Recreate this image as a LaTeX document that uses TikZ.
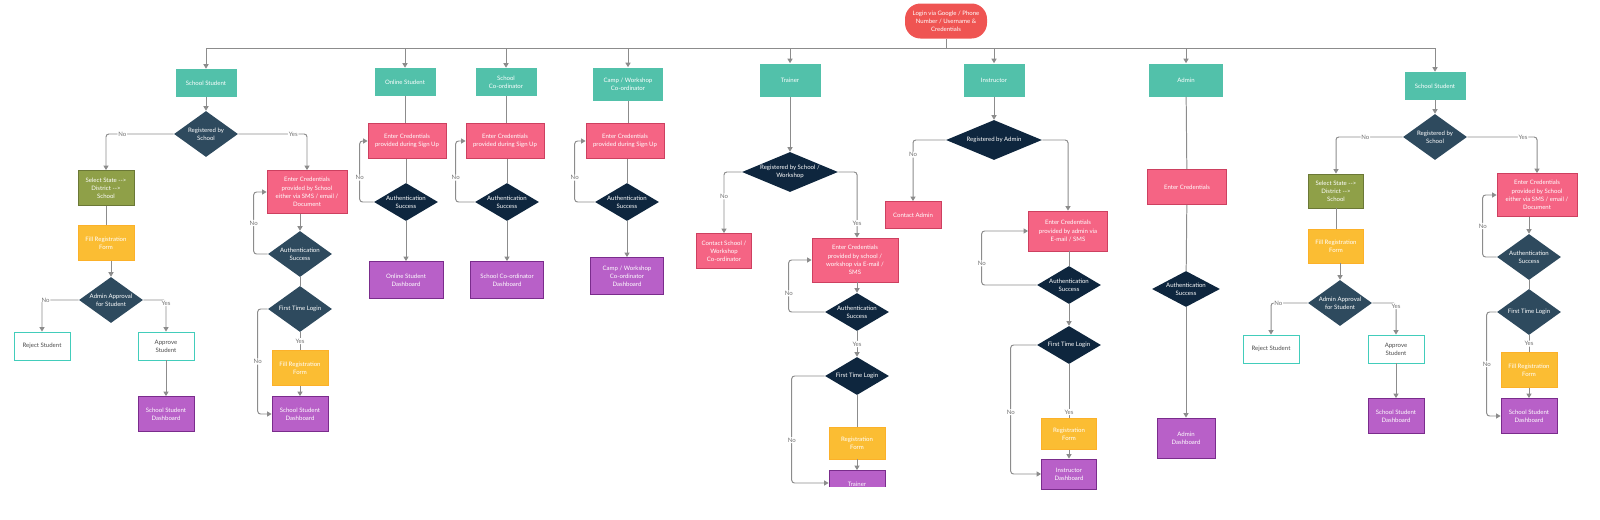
\documentclass[tikz,border=0pt]{standalone}
\usepackage{fontspec}
\setmainfont{Lato}
\usetikzlibrary{arrows.meta}
\usetikzlibrary{shapes.geometric}
\definecolor{rolle}{RGB}{82,193,170}
\definecolor{startrot}{RGB}{239,84,82}
\definecolor{rosa}{RGB}{245,100,132}
\definecolor{rosarand}{RGB}{205,64,96}
\definecolor{schiefer}{RGB}{46,74,94}
\definecolor{marine}{RGB}{14,38,62}
\definecolor{oliv}{RGB}{143,160,72}
\definecolor{gelb}{RGB}{251,189,51}
\definecolor{lila}{RGB}{184,96,200}
\definecolor{lilarand}{RGB}{122,44,140}
\definecolor{linie}{RGB}{140,140,140}
\newlength{\pix}
\setlength{\pix}{0.025cm}

\tikzset{
    box/.style={rectangle, align=center, text=white, inner sep=1pt},
    start/.style={box, fill=startrot, rounded corners=11pt, minimum width=82*\pix, minimum height=35*\pix},
    rolle/.style={box, fill=rolle, minimum width=61*\pix, minimum height=28*\pix},
    cred/.style={box, fill=rosa, draw=rosarand, line width=0.6pt, minimum width=78*\pix, minimum height=35*\pix},
    wahl/.style={box, fill=oliv, draw=oliv!75!black, line width=0.6pt, minimum width=56*\pix, minimum height=35*\pix},
    formular/.style={box, fill=gelb, draw=gelb!80!orange, line width=0.6pt, minimum width=56*\pix, minimum height=35*\pix},
    brett/.style={box, fill=lila, draw=lilarand, line width=0.6pt, minimum width=56*\pix, minimum height=35*\pix},
    ergebnis/.style={box, fill=white, draw=rolle!80!cyan, text=black!70, line width=0.6pt, minimum width=56*\pix, minimum height=28*\pix},
    frage/.style={diamond, aspect=1.4, fill=schiefer, text=white, align=center, inner sep=0pt, minimum width=64*\pix, minimum height=46*\pix},
    pruef/.style={diamond, aspect=1.7, fill=marine, text=white, align=center, inner sep=0pt, minimum width=64*\pix, minimum height=38*\pix},
    breit/.style={aspect=2.4, minimum width=96*\pix, minimum height=40*\pix},
    link/.style={draw=linie, line width=0.7pt, rounded corners=2pt},
    flow/.style={link, -{Triangle[length=3.2pt,width=3.6pt]}},
    lbl/.style={fill=white, text=black!55, inner sep=0.6pt}
}

\begin{document}
\begin{tikzpicture}[x=0.025cm, y=-0.025cm, font=\fontsize{4.3}{5.8}\selectfont]

    \useasboundingbox (0,0) rectangle (1600,520);

    % Start und Rollen
    \node[start] (login) at (946,21) {Login via Google / Phone\\Number / Username \&\\Credentials};
    \coordinate (bus) at (946,48);

    \node[rolle] (ss1) at (206,83) {School Student};
    \node[rolle] (os) at (405,82) {Online Student};
    \node[rolle] (sc) at (506,82) {School\\Co-ordinator};
    \node[rolle, minimum width=70*\pix, minimum height=33*\pix] (cw) at (628,84) {Camp / Workshop\\Co-ordinator};
    \node[rolle, minimum height=33*\pix] (tr) at (790,80) {Trainer};
    \node[rolle, minimum height=33*\pix] (in) at (994,80) {Instructor};
    \node[rolle, minimum width=74*\pix, minimum height=33*\pix] (ad) at (1186,80) {Admin};
    \node[rolle] (ss2) at (1435,86) {School Student};

    \draw[link] (login) -- (bus);
    \draw[link] (ss1.north |- bus) -- (ss2.north |- bus);
    \foreach \r in {ss1,os,sc,cw,tr,in,ad,ss2} {
        \draw[flow] (\r.north |- bus) -- (\r.north);
    }

    % School Student (links)
    \node[frage] (rs1) at (206,134) {Registered by\\School};
    \node[wahl] (sel1) at (106,188) {Select State {-}{-}>\\District {-}{-}>\\School};
    \node[formular] (fr1) at (106,243) {Fill Registration\\Form};
    \node[frage] (aa1) at (111,300) {Admin Approval\\for Student};
    \node[ergebnis] (rj1) at (42,346) {Reject Student};
    \node[ergebnis] (ap1) at (166,346) {Approve\\Student};
    \node[brett] (sd1) at (166,414) {School Student\\Dashboard};
    \node[cred, minimum width=80*\pix, minimum height=43*\pix] (ec1) at (307,192) {Enter Credentials\\provided by School\\either via SMS / email /\\Document};
    \node[frage] (au1) at (300,254) {Authentication\\Success};
    \node[frage] (ft1) at (300,309) {First Time Login};
    \node[formular] (fr2) at (300,368) {Fill Registration\\Form};
    \node[brett] (sd2) at (300,414) {School Student\\Dashboard};

    \draw[flow] (ss1) -- (rs1);
    \draw[flow] (rs1.west) -| node[pos=0.38,lbl]{No} (sel1.north);
    \draw[flow] (rs1.east) -| node[pos=0.4,lbl]{Yes} (ec1.north);
    \draw[link] (sel1) -- (fr1);
    \draw[flow] (fr1.south -| aa1.north) -- (aa1.north);
    \draw[flow] (aa1.west) -| node[pos=0.45,lbl]{No} (rj1.north);
    \draw[flow] (aa1.east) -| node[pos=0.55,lbl]{Yes} (ap1.north);
    \draw[flow] (ap1) -- (sd1);
    \draw[flow] (ec1.south -| au1.north) -- (au1.north);
    \draw[flow] (au1.west) -- ++(-14,0) |- node[pos=0.25,lbl]{No} (ec1.west);
    \draw[link] (au1) -- (ft1);
    \draw[link] (ft1) -- node[lbl]{Yes} (fr2);
    \draw[flow] (fr2) -- (sd2);
    \draw[flow] (ft1.west) -- ++(-10,0) |- node[pos=0.25,lbl]{No} (sd2.west);

    % Online Student, School Co-ordinator, Camp / Workshop
    \node[cred] (ec2) at (407,141) {Enter Credentials\\provided during Sign Up};
    \node[pruef] (au2) at (406,202) {Authentication\\Success};
    \node[brett, minimum width=74*\pix, minimum height=37*\pix] (db2) at (406,280) {Online Student\\Dashboard};

    \node[cred] (ec3) at (505,141) {Enter Credentials\\provided during Sign Up};
    \node[pruef] (au3) at (507,202) {Authentication\\Success};
    \node[brett, minimum width=73*\pix, minimum height=37*\pix] (db3) at (507,280) {School Co-ordinator\\Dashboard};

    \node[cred] (ec4) at (625,141) {Enter Credentials\\provided during Sign Up};
    \node[pruef] (au4) at (627,202) {Authentication\\Success};
    \node[brett, minimum width=73*\pix, minimum height=37*\pix] (db4) at (627,276) {Camp / Workshop\\Co-ordinator\\Dashboard};

    \draw[link] (os.south) -- (os.south |- ec2.north);
    \draw[link] (sc.south) -- (sc.south |- ec3.north);
    \draw[link] (cw.south) -- (cw.south |- ec4.north);
    \foreach \e/\a/\d/\w in {ec2/au2/db2/14, ec3/au3/db3/19, ec4/au4/db4/20} {
        \draw[link] (\e.south -| \a.north) -- (\a.north);
        \draw[flow] (\a.west) -- ++(-\w,0) |- node[pos=0.2,lbl]{No} (\e.west);
        \draw[flow] (\a) -- (\d);
    }

    % Trainer
    \node[pruef, breit] (rt) at (790,172) {Registered by School /\\Workshop};
    \node[cred, minimum width=55*\pix] (ct) at (724,251) {Contact School /\\Workshop\\Co-ordinator};
    \node[cred, minimum width=86*\pix, minimum height=44*\pix] (et) at (855,260) {Enter Credentials\\provided by school /\\workshop via E-mail /\\SMS};
    \node[pruef] (aut) at (857,312) {Authentication\\Success};
    \node[pruef] (ftt) at (857,376) {First Time Login};
    \node[formular, minimum height=32*\pix] (frt) at (857,443) {Registration\\Form};
    \begin{scope}
        \clip (0,0) rectangle (1600,486);
        \node[brett] (dbt) at (857,488) {Trainer\\Dashboard};
        \draw[flow] (ftt.west) -- ++(-33,0) |- node[pos=0.3,lbl]{No} ([yshift=5*\pix]dbt.west);
    \end{scope}

    \draw[flow] (tr) -- (rt);
    \draw[flow] (rt.west) -| node[pos=0.7,lbl]{No} (ct.north);
    \draw[flow] (rt.east) -| node[pos=0.89,lbl]{Yes} (aut.north |- et.north);
    \draw[flow] (et.south -| aut.north) -- (aut.north);
    \draw[flow] (aut.west) -- ++(-36,0) |- node[pos=0.18,lbl]{No} (et.west);
    \draw[flow] (aut) -- node[lbl]{Yes} (ftt);
    \draw[link] (ftt) -- (frt);
    \draw[flow] (frt) -- (dbt);

    % Instructor
    \node[pruef, breit] (ri) at (994,140) {Registered by Admin};
    \node[cred, minimum width=56*\pix, minimum height=27*\pix] (ca) at (913,215) {Contact Admin};
    \node[cred, minimum width=79*\pix, minimum height=40*\pix] (ei) at (1068,231) {Enter Credentials\\provided by admin via\\E-mail / SMS};
    \node[pruef] (aui) at (1069,285) {Authentication\\Success};
    \node[pruef] (fti) at (1069,345) {First Time Login};
    \node[formular, minimum width=55*\pix, minimum height=31*\pix] (fri) at (1069,434) {Registration\\Form};
    \node[brett, minimum width=55*\pix, minimum height=30*\pix] (dbi) at (1069,474) {Instructor\\Dashboard};

    \draw[flow] (in) -- (ri);
    \draw[flow] (ri.west) -| node[pos=0.62,lbl]{No} (ca.north);
    \draw[flow] (ri.east) -| (ei.north);
    \draw[link] (ei.south -| aui.north) -- (aui.north);
    \draw[flow] (aui.west) -- ++(-55,0) |- node[pos=0.2,lbl]{No} (ei.west);
    \draw[flow] (aui) -- (fti);
    \draw[link] (fti) -- node[pos=0.89,lbl]{Yes} (fri);
    \draw[flow] (fri) -- (dbi);
    \draw[flow] (fti.west) -- ++(-26,0) |- node[pos=0.26,lbl]{No} (dbi.west);

    % Admin
    \node[cred, minimum width=79*\pix] (ea) at (1187,187) {Enter Credentials};
    \node[pruef, minimum width=68*\pix, minimum height=36*\pix] (aua) at (1186,289) {Authentication\\Success};
    \node[brett, minimum width=58*\pix, minimum height=40*\pix] (dba) at (1186,438) {Admin\\Dashboard};

    \draw[link] (ad) -- (ea);
    \draw[link] (ea) -- (aua);
    \draw[flow] (aua) -- (dba);

    % School Student (rechts)
    \node[frage] (rs2) at (1435,137) {Registered by\\School};
    \node[wahl, minimum width=55*\pix, minimum height=34*\pix] (sel2) at (1336,191) {Select State {-}{-}>\\District {-}{-}>\\School};
    \node[formular, minimum width=55*\pix, minimum height=34*\pix] (fr3) at (1336,246) {Fill Registration\\Form};
    \node[frage] (aa2) at (1340,303) {Admin Approval\\for Student};
    \node[ergebnis] (rj2) at (1271,349) {Reject Student};
    \node[ergebnis] (ap2) at (1396,349) {Approve\\Student};
    \node[brett] (sd3) at (1396,416) {School Student\\Dashboard};
    \node[cred, minimum width=80*\pix, minimum height=43*\pix] (ec5) at (1537,195) {Enter Credentials\\provided by School\\either via SMS / email /\\Document};
    \node[frage] (au5) at (1529,257) {Authentication\\Success};
    \node[frage] (ft5) at (1529,312) {First Time Login};
    \node[formular] (fr4) at (1529,370) {Fill Registration\\Form};
    \node[brett] (sd4) at (1529,416) {School Student\\Dashboard};

    \draw[flow] (ss2) -- (rs2);
    \draw[flow] (rs2.west) -| node[pos=0.28,lbl]{No} (sel2.north);
    \draw[flow] (rs2.east) -| node[pos=0.4,lbl]{Yes} (ec5.north);
    \draw[link] (sel2) -- (fr3);
    \draw[flow] (fr3.south -| aa2.north) -- (aa2.north);
    \draw[flow] (aa2.west) -| node[pos=0.4,lbl]{No} (rj2.north);
    \draw[flow] (aa2.east) -| node[pos=0.55,lbl]{Yes} (ap2.north);
    \draw[flow] (ap2) -- (sd3);
    \draw[flow] (ec5.south -| au5.north) -- (au5.north);
    \draw[flow] (au5.west) -- ++(-14,0) |- node[pos=0.25,lbl]{No} (ec5.west);
    \draw[link] (au5) -- (ft5);
    \draw[link] (ft5) -- node[lbl]{Yes} (fr4);
    \draw[flow] (fr4) -- (sd4);
    \draw[flow] (ft5.west) -- ++(-10,0) |- node[pos=0.25,lbl]{No} (sd4.west);

\end{tikzpicture}
\end{document}
